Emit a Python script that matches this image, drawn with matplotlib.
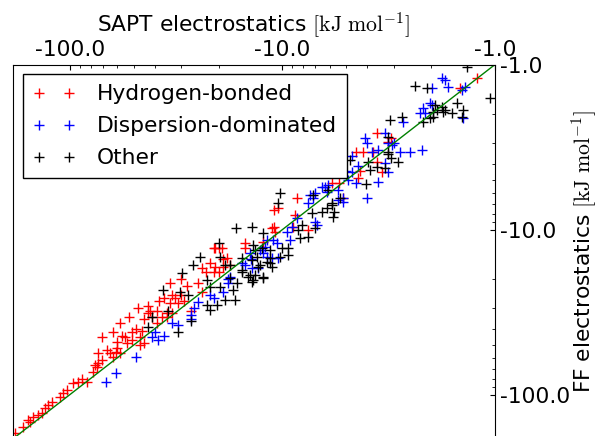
import numpy as np
import matplotlib
matplotlib.use("Agg")
import matplotlib.pyplot as plt
from matplotlib.ticker import FuncFormatter, NullFormatter

# electrostatic energies, columns: SAPT, force field  [kJ/mol]
hbond = np.array([
    (-181, -171), (-166, -158), (-158, -143), (-149, -137), (-141, -133), (-154, -147),
    (-131, -121), (-127, -116), (-122, -111), (-111, -104), (-108, -98), (-103, -94),
    (-97, -85), (-92, -84), (-88, -80), (-78, -73), (-75, -68), (-74, -64), (-71, -62),
    (-67, -54), (-65, -56), (-61, -55), (-60, -52), (-74, -56), (-71, -45), (-63, -42),
    (-60, -48), (-57, -44), (-55, -45), (-58, -37), (-53, -34), (-54, -49), (-51, -47),
    (-49, -40), (-48, -30), (-43, -29), (-51, -42), (-47, -45), (-45, -49), (-46, -41),
    (-42, -31), (-39, -31), (-41, -34), (-37, -34), (-35, -32), (-34, -28), (-58, -56),
    (-63, -59), (-76, -66), (-83, -84), (-135, -129),
    (-45, -35), (-43, -32), (-39, -37), (-38, -27), (-36, -26), (-35, -34), (-34, -21),
    (-33, -25), (-32, -26), (-31, -28), (-30, -20), (-30, -25), (-29, -27), (-27, -31),
    (-28, -22), (-25, -21), (-24, -24), (-24, -17), (-23, -18), (-22, -16), (-21, -13),
    (-20, -13), (-20, -18), (-19, -15), (-21, -18), (-15, -12), (-15, -13), (-11, -9.7),
    (-47, -50), (-33, -32),
    (-8.5, -6.4), (-11, -7.6), (-10.5, -7.4), (-8.7, -8.2), (-11.2, -9.8), (-10.8, -10.4),
    (-12.4, -11.9), (-20.7, -12.9), (-19.3, -12.9), (-18.3, -14.9), (-20.7, -16.9),
    (-19.1, -16.9), (-17.7, -16.4), (-7.6, -10.1), (-5.85, -5.2), (-5.4, -5.2), (-8.9, -9.7),
    (-3.6, -2.6), (-4.5, -3.4), (-4.2, -3.4), (-3.75, -3.4), (-3.6, -3.9), (-4.3, -4.4),
    (-3.4, -4.5), (-3.2, -2.95), (-4.4, -4.9), (-5.2, -6.4),
    (-1.46, -1.39), (-1.22, -1.21), (-3.1, -2.8),
])

dispersion = np.array([
    (-68, -84), (-61, -74), (-49, -59), (-41, -45), (-38.5, -47), (-36, -44), (-40, -42),
    (-33, -37), (-31, -38), (-27, -35), (-27, -33), (-26, -30), (-25, -27.5), (-21, -26),
    (-22, -25), (-18, -20), (-18, -21), (-19, -24), (-15.5, -16), (-14, -15), (-13, -17),
    (-12.4, -13.9), (-11.8, -11.6), (-10.6, -12.1),
    (-7.4, -6.2), (-7.0, -6.0), (-7.6, -6.9), (-8.5, -8.5), (-9.0, -9.7), (-9.5, -10.4),
    (-9.2, -11.6), (-11.1, -11.6), (-12.1, -12.8), (-12.8, -13.3), (-11.8, -14.7),
    (-11.2, -14.9), (-10.5, -14.9), (-14.2, -13.9), (-15, -16.4), (-13.9, -17.1),
    (-17.7, -19.4), (-7.0, -9.0), (-6.9, -9.4), (-6.5, -5.5), (-6.1, -5.37), (-5.5, -5.8),
    (-5.2, -6.4), (-5.5, -6.6), (-5.2, -6.8), (-4.9, -5.0), (-4.5, -5.2),
    (-4.1, -2.8), (-4.0, -3.0), (-3.3, -2.6), (-3.0, -3.0), (-3.56, -3.3), (-3.8, -3.4),
    (-4.7, -3.6), (-5.0, -4.4), (-4.7, -4.5), (-4.4, -4.1), (-2.8, -3.4), (-2.5, -3.4),
    (-2.2, -3.3), (-3.3, -3.95), (-3.2, -4.5), (-3.2, -3.0), (-4.0, -6.4), (-3.56, -5.15),
    (-6.3, -5.5), (-6.2, -5.9), (-7.2, -6.4), (-2.18, -1.84), (-2.13, -1.97), (-1.98, -1.76),
    (-1.41, -2.11), (-2.25, -1.97),
    (-1.78, -1.21), (-1.72, -1.24), (-1.67, -1.37), (-1.98, -1.39), (-2.02, -1.71),
    (-1.43, -1.43), (-1.38, -1.37), (-2.71, -2.23), (-3.05, -3.08),
])

other = np.array([
    (-43, -39), (-41, -34), (-34.5, -31), (-31, -42), (-27, -36), (-16.6, -9.8),
    (-13.9, -9.65), (-20, -12.1), (-24.4, -14.7), (-29.7, -18.4), (-36.5, -23.3),
    (-30.4, -24), (-27.8, -25), (-22.6, -20.2), (-21.9, -22.3), (-19.7, -22.3),
    (-18.7, -16.4), (-17.7, -19.7), (-17.1, -23.3), (-16.4, -21.1), (-22.6, -28.6),
    (-21.9, -30.7), (-20.4, -28.6), (-18.7, -26.8), (-16.8, -26.8), (-15.5, -17.6),
    (-14.2, -18.9), (-13.7, -20.2), (-12.4, -19.7), (-11.2, -16.9), (-13.2, -14.7),
    (-11.8, -15.7), (-12.5, -12.95), (-13.7, -12.4), (-11.45, -13.3), (-12.4, -10.5),
    (-26.3, -16.4), (-17.7, -16.4),
    (-10.3, -6.0), (-10.5, -6.9), (-19.7, -14.7), (-15.5, -14.9), (-13.9, -15.3),
    (-13.4, -13.3), (-13.1, -16.9), (-14.5, -19.4), (-12.4, -19.4), (-10.3, -14.7),
    (-10.1, -12.95), (-9.4, -12.95), (-9.4, -14.3), (-8.3, -11.3), (-7.6, -11.1),
    (-7.0, -9.8), (-8.1, -9.4), (-7.3, -7.95), (-6.5, -7.8), (-6.2, -7.4), (-5.85, -7.1),
    (-5.7, -7.8), (-5.8, -8.4), (-8.45, -10.1), (-11.45, -14.9),
    (-3.12, -2.17), (-2.74, -2.08), (-4.8, -3.8), (-3.96, -3.9), (-3.2, -3.5), (-3.1, -3.7),
    (-2.86, -3.9), (-3.2, -2.75), (-3.87, -4.36), (-3.6, -4.2), (-3.3, -4.24),
    (-4.04, -5.3), (-5.36, -6.45), (-5.85, -6.9), (-7.2, -6.2), (-6.1, -5.8),
    (-2.18, -2.23), (-2.02, -2.11), (-1.92, -1.76), (-1.78, -1.81), (-1.72, -1.89),
    (-1.59, -1.97), (-1.51, -1.71), (-1.41, -1.89), (-1.43, -2.08), (-1.96, -1.94),
    (-1.35, -1.04), (-2.38, -1.35), (-2.09, -1.39), (-1.06, -1.6), (-1.87, -1.89),
    (-1.76, -1.94), (-1.96, -2.08), (-3.2, -3.4),
    (-11.45, -16), (-12.8, -16.4), (-15.5, -18.1), (-13.4, -18.9), (-13.9, -20.8),
])

groups = [(hbond, "r", "Hydrogen-bonded"),
          (dispersion, "b", "Dispersion-dominated"),
          (other, "k", "Other")]

# energy range shown on both axes (magnitudes)
e_lim = [186.0, 1.0]

plt.rcParams["mathtext.fontset"] = "cm"
plt.rcParams["font.size"] = 15.7

fig = plt.figure(figsize=(5.99, 4.36), dpi=100)
ax = fig.add_axes([0.0212, -0.0069, 0.8052, 0.8589])

# log axes need positive numbers, so plot magnitudes and relabel as negative
for data, col, lab in groups:
    ax.plot(-data[:, 0], -data[:, 1], "+", color=col, ms=7, mew=1, label=lab)

ax.plot(e_lim, e_lim, color="green", lw=1)

ax.set_xscale("log")
ax.set_yscale("log")
ax.set_xlim(e_lim)
ax.set_ylim(e_lim)

neg = FuncFormatter(lambda v, p: "-%.1f" % v)
for axis in (ax.xaxis, ax.yaxis):
    axis.set_major_formatter(neg)
    axis.set_minor_formatter(NullFormatter())

ax.xaxis.tick_top()
ax.xaxis.set_label_position("top")
ax.yaxis.tick_right()
ax.yaxis.set_label_position("right")
ax.tick_params(which="both", direction="in", pad=3.5)
ax.tick_params(which="major", length=3.5)
ax.tick_params(which="minor", length=2)

ax.set_xlabel(r"SAPT electrostatics $[\mathrm{kJ\ mol^{-1}}]$", labelpad=6)
ax.set_ylabel(r"FF electrostatics $[\mathrm{kJ\ mol^{-1}}]$", labelpad=-1)

leg = ax.legend(loc="upper left", numpoints=2, fancybox=False, edgecolor="black",
                framealpha=1, handlelength=2.0, handletextpad=0.95,
                borderaxespad=0.45, borderpad=0.45, labelspacing=0.55)
leg.get_frame().set_linewidth(1)

fig.savefig("out.png", dpi=100)
